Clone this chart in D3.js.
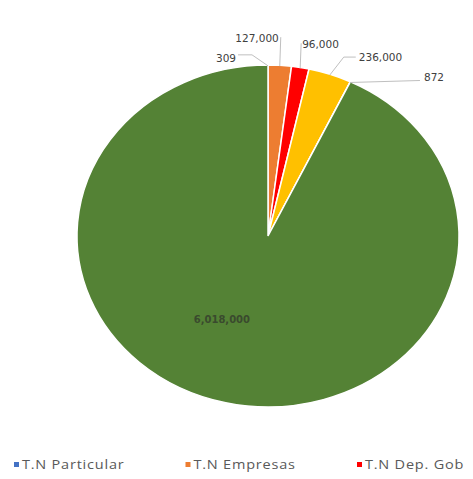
<!DOCTYPE html>
<html><head><meta charset="utf-8">
<script src="https://cdn.jsdelivr.net/npm/d3@7"></script>
<style>html,body{margin:0;padding:0;background:#fff;}svg{display:block;}</style>
</head><body>
<svg id="c" width="473" height="479"></svg>
<script>
const categories = ["T.N Particular", "T.N Empresas", "T.N Dep. Gob", "T.N Serie 4", "T.N Serie 5", "T.N Serie 6"];
const values = [309, 127000, 96000, 236000, 872, 6018000];
const labels = ["309", "127,000", "96,000", "236,000", "872", "6,018,000"];
const colors = ["#4472C4", "#ED7D31", "#FF0000", "#FFC000", "#A5A5A5", "#548235"];
const legendShown = 3;

const svg = d3.select("#c");
const cx = 268, cy = 236, ry = 171, sx = 1.117;

const pie = d3.pie().sort(null).value(d => d)(values);
const arc = d3.arc().innerRadius(0).outerRadius(ry);

const g = svg.append("g").attr("transform", `translate(${cx},${cy}) scale(${sx},1)`);
g.selectAll("path").data(pie).join("path")
  .attr("d", arc)
  .attr("fill", (d, i) => colors[i])
  .attr("stroke", "#fff")
  .attr("stroke-width", 1.5)
  .attr("vector-effect", "non-scaling-stroke");

function anchor(d, f) {
  const a = (d.startAngle + d.endAngle) / 2;
  return [cx + Math.sin(a) * ry * f * sx, cy - Math.cos(a) * ry * f];
}

const leaders = [
  {pts: [[-16, -11], [-30, -11]], tx: -32, ty: -8, anchor: "end"},
  {pts: [[1, -29]], tx: -1, ty: -28, anchor: "end"},
  {pts: [[1, -25]], tx: 2, ty: -24, anchor: "start"},
  {pts: [[14, -18], [26, -18]], tx: 29, ty: -18, anchor: "start"},
  {pts: [[70, -2]], tx: 74, ty: -5, anchor: "start"}
];

const lg = svg.append("g");
leaders.forEach((L, i) => {
  const [ax, ay] = anchor(pie[i], 0.995);
  const pts = [[ax, ay]].concat(L.pts.map(p => [ax + p[0], ay + p[1]]));
  lg.append("path")
    .attr("d", d3.line()(pts))
    .attr("fill", "none")
    .attr("stroke", "#bfbfbf")
    .attr("stroke-width", 1);
  lg.append("text")
    .attr("x", ax + L.tx).attr("y", ay + L.ty)
    .attr("dy", "0.35em")
    .attr("text-anchor", L.anchor)
    .attr("font-family", "DejaVu Sans, sans-serif")
    .attr("font-size", 10.5)
    .attr("fill", "#404040")
    .text(labels[i]);
});

{
  const [ax, ay] = anchor(pie[5], 0.5);
  svg.append("text")
    .attr("x", ax - 25).attr("y", ay)
    .attr("dy", "0.35em")
    .attr("text-anchor", "middle")
    .attr("font-family", "DejaVu Sans, sans-serif")
    .attr("font-size", 10)
    .attr("font-weight", "bold")
    .attr("fill", "#3a4a2e")
    .text(labels[5]);
}

const legX = d3.scalePoint().domain(categories.slice(0, legendShown)).range([14, 357]);
const leg = svg.append("g");
categories.slice(0, legendShown).forEach((c, i) => {
  const x = legX(c);
  leg.append("rect").attr("x", x).attr("y", 462).attr("width", 5).attr("height", 5).attr("fill", colors[i]);
  leg.append("text")
    .attr("transform", `translate(${x + 8},469) scale(${sx},1)`)
    .attr("font-family", "Open Sans, sans-serif")
    .attr("font-size", 13)
    .attr("letter-spacing", 0.7)
    .attr("fill", "#595959")
    .text(c);
});
</script>
</body></html>
